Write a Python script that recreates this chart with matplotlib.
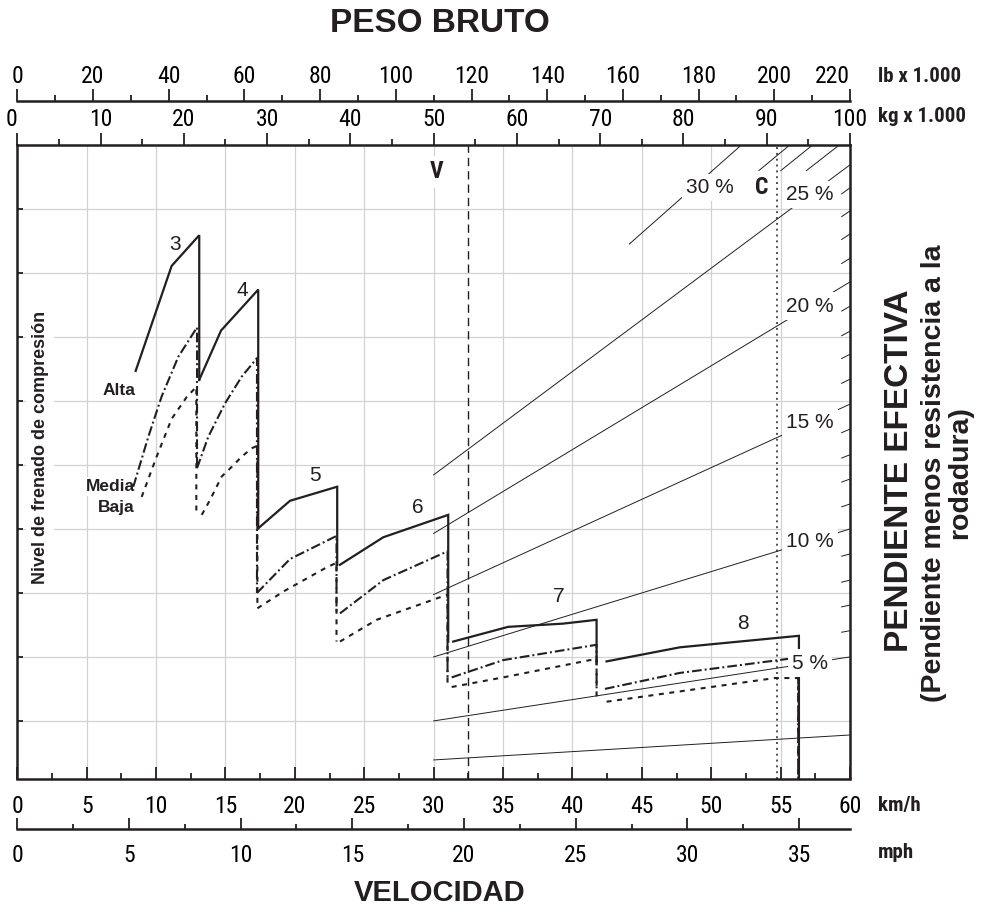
import numpy as np
import matplotlib
matplotlib.use('Agg')
import matplotlib.pyplot as plt
from matplotlib import font_manager as fm

# ---------------- data ----------------
kmh_ticks = list(range(0, 61, 5))
mph_ticks = list(range(0, 36, 5))
kg_ticks = list(range(0, 101, 10))
lb_ticks = list(range(0, 221, 20))

# grade lines: level reached at 100 t
grade_pct = [2, 5, 6, 7, 8, 9, 10, 11, 12, 13, 14, 15, 16, 17, 18, 19, 20,
             21, 22, 23, 24, 25, 26, 27, 28, 30]
grade_level_100 = [0.78, 2.00, 2.41, 2.81, 3.20, 3.61, 4.00, 4.39, 4.78, 5.16,
                   5.56, 5.95, 6.34, 6.73, 7.09, 7.48, 7.86, 8.23, 8.61, 8.97,
                   9.33, 9.69, 10.13, 10.47, 10.78, 11.50]
grade_long = [2, 5, 10, 15, 20, 25]
grade_labelled = [5, 10, 15, 20, 25, 30]
grade_top_ticks = [26, 27, 28]
V_weight = 54.1
C_weight = 91.2

gear_names = ['3', '4', '5', '6', '7', '8']
gear_label_x = [11.36, 16.19, 21.45, 28.87, 39.03, 52.28]
gear_label_y = [8.44, 7.73, 4.83, 4.33, 2.95, 2.52]

alta_x = [[8.53, 11.12, 13.11], [13.11, 14.68, 17.36], [17.36, 19.65, 23.05],
          [23.25, 26.37, 31.05], [31.41, 35.37, 39.32, 41.74], [42.46, 47.74, 56.32]]
alta_y = [[6.47, 8.11, 8.59], [6.33, 7.10, 7.74], [4.01, 4.44, 4.66],
          [3.44, 3.87, 4.22], [2.24, 2.47, 2.52, 2.58], [1.93, 2.15, 2.33]]

media_x = [[8.36, 9.44, 10.40, 11.60, 12.95], [12.95, 13.76, 14.96, 16.17, 17.27],
           [17.27, 19.65, 23.0], [23.25, 26.37, 31.0], [31.30, 35.01, 41.74],
           [42.34, 47.74, 56.27]]
media_y = [[4.66, 5.44, 6.07, 6.69, 7.15], [4.95, 5.44, 5.96, 6.38, 6.67],
           [3.00, 3.53, 3.89], [2.68, 3.20, 3.65], [1.68, 1.95, 2.19],
           [1.50, 1.75, 1.99]]

baja_x = [[8.96, 10.04, 11.12, 12.20, 12.90],
          [13.29, 13.88, 14.73, 15.45, 16.17, 16.89, 17.30],
          [17.30, 19.16, 22.29, 23.0], [23.25, 25.89, 30.69, 31.0],
          [31.30, 35.01, 41.26, 41.74], [42.46, 54.59, 56.27]]
baja_y = [[4.50, 5.13, 5.72, 6.06, 6.22],
          [4.22, 4.45, 4.82, 4.97, 5.13, 5.26, 5.30],
          [2.76, 3.02, 3.40, 3.47], [2.24, 2.58, 2.95, 2.97],
          [1.53, 1.68, 1.95, 1.96], [1.30, 1.67, 1.67]]

# ---------------- fonts ----------------
plt.rcParams['lines.scale_dashes'] = False
ttf = fm.fontManager.ttflist
names = {f.name for f in ttf}
BASE = 'Liberation Sans' if 'Liberation Sans' in names else 'DejaVu Sans'
plt.rcParams['font.family'] = [BASE, 'DejaVu Sans']

NARROW = dict(family=BASE)
FOUND_NARROW = False
for p in ['Liberation Sans Narrow', 'Roboto Condensed', 'Noto Sans Condensed',
          'Open Sans Condensed', 'Arial Narrow']:
    if p in names:
        NARROW = dict(family=p)
        FOUND_NARROW = True
        break
if not FOUND_NARROW:
    for fam in ['Noto Sans', 'Roboto', 'Open Sans']:
        if any(f.name == fam and str(f.stretch) in ('condensed', 'semi-condensed')
               for f in ttf):
            NARROW = dict(family=fam, fontstretch='condensed')
            FOUND_NARROW = True
            break

TICK_FS = 17 if FOUND_NARROW else 14.5

INK = '#231f20'
GRID = '#d2d2d2'
W, H, DPI = 986, 919, 100

fig = plt.figure(figsize=(W / DPI, H / DPI), dpi=DPI)


def fx(px):
    return px / W


def fy(py):
    return 1 - py / H


def narrowify(labels):
    for lab in labels:
        lab.set_family(NARROW['family'])
        if 'fontstretch' in NARROW:
            lab.set_fontstretch(NARROW['fontstretch'])


L, R, T, B = 17.3, 850.0, 145.0, 778.5
YMIN, YMAX = 0.10, 10.0
ax = fig.add_axes([fx(L), fy(B), fx(R) - fx(L), fy(T) - fy(B)])
ax.set_xlim(0, 60)
ax.set_ylim(YMIN, YMAX)
for s in ax.spines.values():
    s.set_linewidth(1.8)
    s.set_color(INK)
    s.set_zorder(6)

# grid
for v in kmh_ticks[1:-1]:
    ax.axvline(v, color=GRID, lw=0.9, zorder=0.5)
for h in range(1, 10):
    ax.axhline(h, color=GRID, lw=0.9, zorder=0.5)

# bottom km/h axis (ticks inward)
ax.xaxis.set_ticks_position('bottom')
ax.set_xticks(kmh_ticks)
ax.set_xticklabels([str(t) for t in kmh_ticks])
ax.set_xticks(np.arange(2.5, 60, 5), minor=True)
ax.tick_params(axis='x', which='major', direction='in', length=8.6, width=1.3,
               color=INK, labelsize=TICK_FS, pad=12)
ax.tick_params(axis='x', which='minor', direction='in', length=4.3, width=1.3,
               color=INK)
narrowify(ax.get_xticklabels())
ax.set_yticks(range(1, 10))
ax.set_yticklabels([])
ax.tick_params(axis='y', which='major', direction='in', length=4.3, width=1.3,
               color=INK, left=True, right=False)

# top kg axis (twin)
axw = ax.twiny()
axw.set_xlim(0, 100)
axw.set_ylim(YMIN, YMAX)
for s in axw.spines.values():
    s.set_visible(False)
axw.set_xticks(kg_ticks)
axw.set_xticklabels([str(t) for t in kg_ticks])
axw.set_xticks(np.arange(5, 100, 10), minor=True)
axw.tick_params(axis='x', which='major', direction='out', length=8.6, width=1.3,
                color=INK, labelsize=TICK_FS, pad=1.5)
axw.tick_params(axis='x', which='minor', direction='out', length=4.3, width=1.3,
                color=INK)
narrowify(axw.get_xticklabels())
axw.get_xticklabels()[0].set_horizontalalignment('right')

# lb axis
ax_lb = fig.add_axes([fx(L), fy(101), fx(R) - fx(L), 0.0001])
ax_lb.patch.set_visible(False)
for k, s in ax_lb.spines.items():
    s.set_visible(k == 'top')
ax_lb.spines['top'].set_linewidth(1.8)
ax_lb.spines['top'].set_color(INK)
ax_lb.set_xlim(0, 220)
ax_lb.set_yticks([])
ax_lb.xaxis.set_ticks_position('top')
ax_lb.set_xticks(lb_ticks)
ax_lb.set_xticklabels([str(t) for t in lb_ticks])
ax_lb.set_xticks(np.arange(10, 220, 20), minor=True)
ax_lb.tick_params(axis='x', which='major', direction='out', length=8.6, width=1.3,
                  color=INK, labelsize=TICK_FS, pad=0.5)
ax_lb.tick_params(axis='x', which='minor', direction='out', length=4.3, width=1.3,
                  color=INK)
narrowify(ax_lb.get_xticklabels())
ax_lb.get_xticklabels()[-1].set_horizontalalignment('right')

# mph axis
ax_mph = fig.add_axes([fx(L), fy(829), fx(R) - fx(L), 0.0001])
ax_mph.patch.set_visible(False)
for k, s in ax_mph.spines.items():
    s.set_visible(k == 'bottom')
ax_mph.spines['bottom'].set_linewidth(1.8)
ax_mph.spines['bottom'].set_color(INK)
ax_mph.set_xlim(0, 60 / 1.609344)
ax_mph.set_yticks([])
ax_mph.set_xticks(mph_ticks)
ax_mph.set_xticklabels([str(t) for t in mph_ticks])
ax_mph.set_xticks(np.arange(2.5, 37, 5), minor=True)
ax_mph.tick_params(axis='x', which='major', direction='in', length=8, width=1.3,
                   color=INK, labelsize=TICK_FS, pad=11)
ax_mph.tick_params(axis='x', which='minor', direction='in', length=3.6, width=1.3,
                   color=INK)
narrowify(ax_mph.get_xticklabels())

# ---------------- grade lines ----------------
lvl = dict(zip(grade_pct, grade_level_100))
for g in grade_long:
    ws = np.array([50.0, 100.0])
    axw.plot(ws, lvl[g] * ws / 100, color=INK, lw=0.7, zorder=1)
ws = np.array([73.5, 100.0])
axw.plot(ws, lvl[30] * ws / 100, color=INK, lw=0.7, zorder=1)
for g in grade_pct:
    if g in grade_long or g == 30:
        continue
    if g in grade_top_ticks:
        wt = YMAX / lvl[g] * 100
        ws = np.array([wt * 0.96, wt])
    else:
        ws = np.array([99.0, 100.0])
    axw.plot(ws, lvl[g] * ws / 100, color=INK, lw=0.7, zorder=1)

box = dict(facecolor='white', edgecolor='none', pad=3)
for g in grade_labelled:
    if g == 30:
        wl, yl = 83.2, 9.34
    else:
        wl = 95.2
        yl = lvl[g] * wl / 100
    axw.text(wl, yl, f'{g} %', fontsize=15, ha='center', va='center',
             color=INK, bbox=box, zorder=5)

# V and C
axw.axvline(V_weight, color=INK, lw=1.0, ls=(0, (6, 3.6)), zorder=2)
axw.axvline(C_weight, color=INK, lw=1.1, ls=(0, (1.4, 2.8)), zorder=2)
axw.text(50.4, 9.58, 'V', fontsize=17, fontweight='bold', ha='center',
         va='center', color=INK, bbox=box, zorder=5, **NARROW)
axw.text(89.4, 9.34, 'C', fontsize=17, fontweight='bold', ha='center',
         va='center', color=INK, bbox=box, zorder=5, **NARROW)

# ---------------- curves ----------------


def draw_series(xs, ys, **style):
    for i, (gx, gy) in enumerate(zip(xs, ys)):
        y_next = ys[i + 1][0] if i + 1 < len(ys) else YMIN
        px = list(gx) + [gx[-1]]
        py = list(gy) + [y_next]
        ax.plot(px, py, zorder=3, solid_joinstyle='miter', **style)


draw_series(alta_x, alta_y, color=INK, lw=1.6, ls='-')
draw_series(media_x, media_y, color=INK, lw=1.5, ls=(0, (7, 2.2, 1.4, 2.2)))
draw_series(baja_x, baja_y, color=INK, lw=1.5, ls=(0, (3.6, 4.0)))

for name, gxl, gyl in zip(gear_names, gear_label_x, gear_label_y):
    ax.text(gxl, gyl, name, fontsize=15, ha='center', va='center', color=INK,
            zorder=4)

lbox = dict(facecolor='white', edgecolor='none', pad=1.5)
ax.text(8.48, 6.17, 'Alta', fontsize=12.5, fontweight='bold', ha='right',
        va='center', color=INK, bbox=lbox, zorder=2)
ax.text(8.48, 4.66, 'Media', fontsize=12.5, fontweight='bold', ha='right',
        va='center', color=INK, bbox=lbox, zorder=2)
ax.text(8.48, 4.34, 'Baja', fontsize=12.5, fontweight='bold', ha='right',
        va='center', color=INK, bbox=lbox, zorder=2)
ax.text(1.64, 5.27, 'Nivel de frenado de compresión', fontsize=13,
        fontweight='bold', rotation=90, ha='center', va='center', color=INK,
        bbox=dict(facecolor='white', edgecolor='none', pad=4), zorder=2)

# ---------------- outer texts ----------------
fig.text(fx(440), fy(23), 'PESO BRUTO', fontsize=24, fontweight='bold',
         ha='center', va='center', color=INK)
fig.text(fx(440), fy(893), 'VELOCIDAD', fontsize=21, fontweight='bold',
         ha='center', va='center', color=INK)
unit_fs = 15 if FOUND_NARROW else 13.5
unit_kw = NARROW if FOUND_NARROW else dict(family=BASE)
fig.text(fx(878), fy(77), 'lb x 1.000', fontsize=unit_fs, fontweight='bold',
         ha='left', va='center', color=INK, **unit_kw)
fig.text(fx(878), fy(116), 'kg x 1.000', fontsize=unit_fs, fontweight='bold',
         ha='left', va='center', color=INK, **unit_kw)
fig.text(fx(878), fy(806), 'km/h', fontsize=unit_fs, fontweight='bold',
         ha='left', va='center', color=INK, **unit_kw)
fig.text(fx(878), fy(853), 'mph', fontsize=unit_fs, fontweight='bold',
         ha='left', va='center', color=INK, **unit_kw)
fig.text(fx(900), fy(471), 'PENDIENTE EFECTIVA', fontsize=24,
         fontweight='bold', rotation=90, ha='center', va='center', color=INK)
fig.text(fx(947), fy(473), '(Pendiente menos resistencia a la\nrodadura)',
         fontsize=20.5, fontweight='bold', rotation=90, ha='center',
         va='center', multialignment='center', linespacing=1.0, color=INK)

fig.savefig('out.png', dpi=DPI)
